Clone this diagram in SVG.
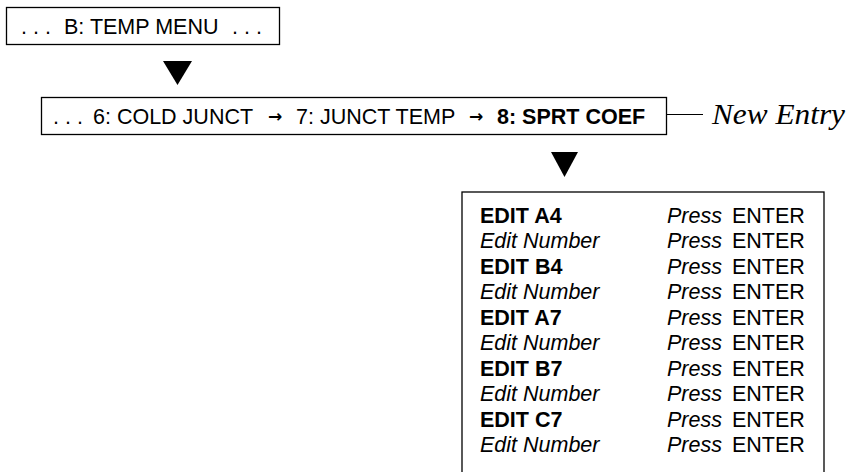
<svg xmlns="http://www.w3.org/2000/svg" width="849" height="472" viewBox="0 0 849 472">
  <style>
    .box { fill: #fff; stroke: #000; stroke-width: 1.3; }
    .t { font-family: "Liberation Sans", Arial, sans-serif; font-size: 21.5px; fill: #000; }
    .b { font-weight: bold; }
    .i { font-style: italic; }
    .arr { font-family: "DejaVu Sans", sans-serif; font-size: 17px; font-weight: bold; fill: #000; }
    .note { font-family: "Liberation Serif", "Times New Roman", serif; font-style: italic; font-size: 29px; fill: #000; }
    .tri { fill: #000; }
    .lead { stroke: #000; stroke-width: 1.2; fill: none; }
  </style>
  <rect width="849" height="472" fill="#fff"/>

  <!-- top menu level -->
  <g id="temp-menu">
    <rect class="box" x="6.5" y="7.5" width="273" height="37"/>
    <text class="t" x="21" y="34">. . .</text>
    <text class="t" x="64" y="34">B: TEMP MENU</text>
    <text class="t" x="232" y="34">. . .</text>
  </g>

  <!-- submenu entries -->
  <g id="temp-submenu">
    <rect class="box" x="41.5" y="97.5" width="625" height="37"/>
    <text class="t" x="53" y="124">. . .</text>
    <text class="t" x="93" y="124">6: COLD JUNCT</text>
    <text class="arr" x="268" y="122">→</text>
    <text class="t" x="296" y="124">7: JUNCT TEMP</text>
    <text class="arr" x="469" y="122">→</text>
    <text class="t b" x="497" y="124">8: SPRT COEF</text>
  </g>

  <!-- new entry callout -->
  <g id="new-entry">
    <text class="note" x="712" y="124" textLength="133" lengthAdjust="spacingAndGlyphs">New Entry</text>
  </g>

  <!-- coefficient edit sequence -->
  <g id="sprt-edit">
    <rect class="box" x="462" y="192" width="362" height="300"/>
    <g class="t">
      <text class="b" x="480" y="223">EDIT A4</text>
      <text class="i" x="480" y="248">Edit Number</text>
      <text class="b" x="480" y="274">EDIT B4</text>
      <text class="i" x="480" y="299">Edit Number</text>
      <text class="b" x="480" y="325">EDIT A7</text>
      <text class="i" x="480" y="350">Edit Number</text>
      <text class="b" x="480" y="376">EDIT B7</text>
      <text class="i" x="480" y="401">Edit Number</text>
      <text class="b" x="480" y="427">EDIT C7</text>
      <text class="i" x="480" y="452">Edit Number</text>
    </g>
    <g class="t">
      <text x="667" y="223"><tspan class="i">Press</tspan><tspan x="732">ENTER</tspan></text>
      <text x="667" y="248"><tspan class="i">Press</tspan><tspan x="732">ENTER</tspan></text>
      <text x="667" y="274"><tspan class="i">Press</tspan><tspan x="732">ENTER</tspan></text>
      <text x="667" y="299"><tspan class="i">Press</tspan><tspan x="732">ENTER</tspan></text>
      <text x="667" y="325"><tspan class="i">Press</tspan><tspan x="732">ENTER</tspan></text>
      <text x="667" y="350"><tspan class="i">Press</tspan><tspan x="732">ENTER</tspan></text>
      <text x="667" y="376"><tspan class="i">Press</tspan><tspan x="732">ENTER</tspan></text>
      <text x="667" y="401"><tspan class="i">Press</tspan><tspan x="732">ENTER</tspan></text>
      <text x="667" y="427"><tspan class="i">Press</tspan><tspan x="732">ENTER</tspan></text>
      <text x="667" y="452"><tspan class="i">Press</tspan><tspan x="732">ENTER</tspan></text>
    </g>
  </g>

  <!-- connectors -->
  <g id="connectors">
    <polygon class="tri" points="163,61 192,61 177.5,85"/>
    <polygon class="tri" points="551,152 578,152 564.5,177"/>
    <path class="lead" d="M666.5,114.5 H703"/>
  </g>
</svg>
